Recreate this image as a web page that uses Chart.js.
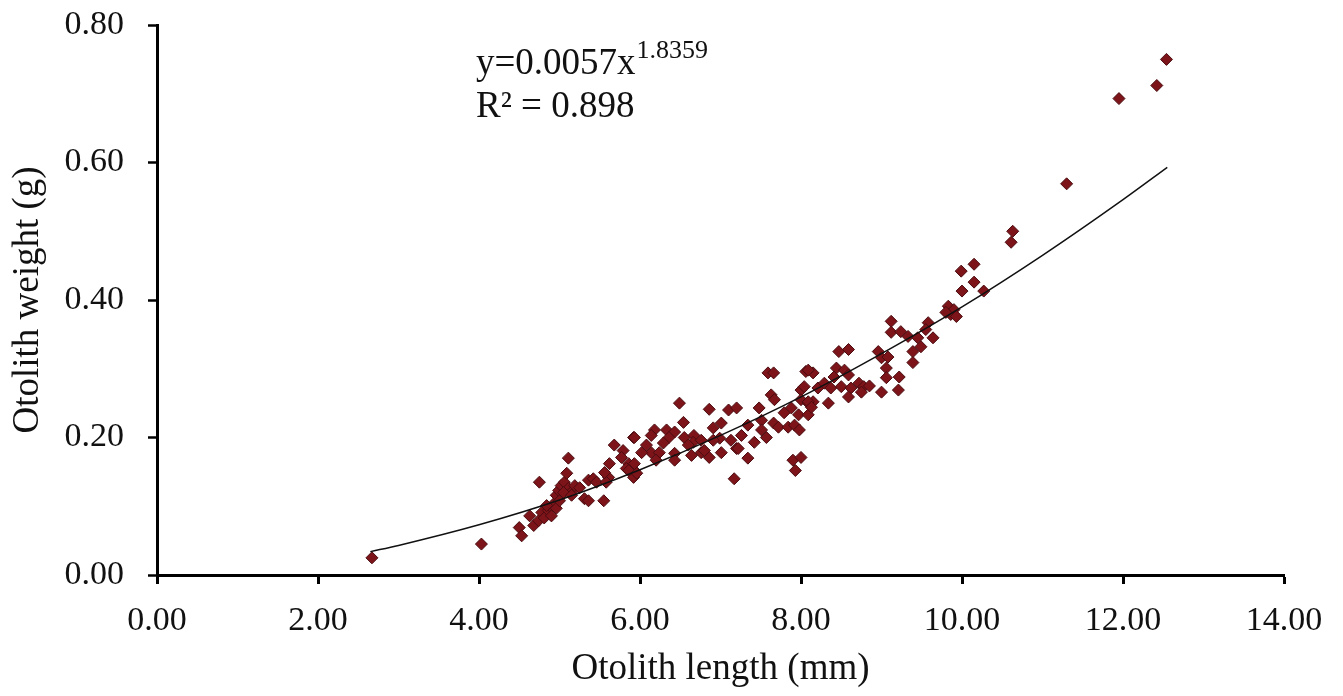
<!DOCTYPE html>
<html>
<head>
<meta charset="utf-8">
<script src="https://cdn.jsdelivr.net/npm/chart.js@4"></script>
<style>
  html, body { margin: 0; padding: 0; background: #fff; }
  #wrap { width: 1343px; height: 696px; }
</style>
</head>
<body>
<div id="wrap"><canvas id="chart" width="1343" height="696"></canvas></div>
<script>
// otolith length (mm) / weight (g)
const lengthMm = [
  2.67, 4.03, 4.50, 4.53, 4.75, 4.68, 4.74, 4.78, 4.81, 4.86, 4.90, 4.94, 4.96, 4.99, 5.02, 5.06,
  5.09, 5.11, 5.11, 5.17, 5.19, 5.31, 5.36, 5.55, 5.36, 5.42, 5.46, 5.61, 5.58, 5.56, 5.62, 5.68,
  5.79, 5.92, 5.77, 5.86, 5.93, 5.92, 5.83, 4.84, 4.90, 4.96, 5.00, 5.05, 5.15, 5.25, 4.63,
  7.59, 7.66, 8.06, 8.15, 8.21, 8.00, 6.49, 6.86, 7.10, 7.20, 7.48, 7.63, 7.67, 7.79, 7.88,
  8.00, 8.09, 8.15, 7.97, 8.09, 6.54, 7.01, 7.34, 7.51, 7.66, 7.72, 7.84, 7.92, 7.98, 7.51,
  7.57, 7.42, 7.26, 7.13, 7.20, 6.18, 5.93, 6.33, 6.43, 6.55, 6.67, 6.66, 6.76, 6.36, 6.99,
  7.01, 6.76, 6.86, 6.80, 7.22, 7.34, 7.90, 8.00, 7.93, 7.17, 6.14, 6.24, 6.43, 6.43, 6.02,
  5.93, 5.86, 5.96, 6.08, 6.20, 6.29, 6.60, 6.64, 6.91, 6.91, 6.14,
  9.99, 10.15, 10.15, 10.00, 10.27, 9.83, 9.86, 9.90, 9.80, 9.93, 9.12, 9.12, 9.24, 9.33,
  9.58, 9.55, 9.45, 9.64, 9.49, 9.39, 9.39, 8.96, 9.00, 9.08, 9.06, 9.06, 9.22, 9.21, 9.00,
  8.47, 8.59, 8.44, 8.54, 8.59, 8.41, 8.29, 8.37, 8.50, 8.62, 8.72, 8.78, 8.85, 8.75, 8.59,
  8.34, 8.09, 8.04, 8.09, 8.13,
  11.30, 11.95, 12.42, 12.54, 10.63, 10.61
];
const weightG = [
  0.025, 0.045, 0.069, 0.057, 0.135, 0.072, 0.079, 0.091, 0.083, 0.094, 0.098, 0.105, 0.116, 0.123, 0.130, 0.135,
  0.148, 0.170, 0.126, 0.123, 0.130, 0.111, 0.108, 0.108, 0.138, 0.140, 0.135, 0.142, 0.135, 0.149, 0.162, 0.189,
  0.181, 0.200, 0.171, 0.162, 0.152, 0.142, 0.155, 0.101, 0.086, 0.097, 0.108, 0.120, 0.116, 0.127, 0.086,
  0.294, 0.294, 0.296, 0.294, 0.272, 0.269, 0.250, 0.241, 0.240, 0.243, 0.243, 0.262, 0.255, 0.236, 0.243,
  0.255, 0.250, 0.252, 0.233, 0.233, 0.222, 0.221, 0.218, 0.225, 0.221, 0.215, 0.215, 0.218, 0.211, 0.211,
  0.200, 0.193, 0.203, 0.196, 0.184, 0.211, 0.200, 0.211, 0.208, 0.200, 0.203, 0.193, 0.196, 0.200, 0.199,
  0.178, 0.178, 0.171, 0.181, 0.184, 0.170, 0.167, 0.171, 0.152, 0.140, 0.178, 0.178, 0.177, 0.167, 0.178,
  0.162, 0.152, 0.148, 0.189, 0.167, 0.192, 0.189, 0.174, 0.214, 0.196, 0.203,
  0.442, 0.452, 0.426, 0.413, 0.413, 0.391, 0.379, 0.386, 0.382, 0.376, 0.369, 0.353, 0.354, 0.347,
  0.367, 0.357, 0.345, 0.345, 0.332, 0.325, 0.309, 0.325, 0.316, 0.317, 0.301, 0.287, 0.288, 0.269, 0.266,
  0.325, 0.328, 0.301, 0.298, 0.291, 0.288, 0.279, 0.272, 0.274, 0.272, 0.279, 0.274, 0.275, 0.266, 0.259,
  0.250, 0.298, 0.274, 0.252, 0.244,
  0.569, 0.693, 0.712, 0.750, 0.500, 0.484
];

// power trend line y=0.0057x^1.8359
const trendX = [2.65, 3, 4, 5, 6, 7, 8, 9, 10, 11, 12, 12.55];
const trendY = [0.034, 0.043, 0.073, 0.109, 0.153, 0.203, 0.259, 0.322, 0.390, 0.465, 0.546, 0.593];

const xTicks = [0, 2, 4, 6, 8, 10, 12, 14];
const yTicks = [0, 0.2, 0.4, 0.6, 0.8];

const serif = "'Liberation Serif', 'Times New Roman', serif";

const points = lengthMm.map((x, i) => ({ x: x, y: weightG[i] }));
const trend = trendX.map((x, i) => ({ x: x, y: trendY[i] }));

// equation text in the plot
const equationText = {
    id: 'equationText',
    afterDraw(chart) {
        const ctx = chart.ctx;
        ctx.save();
        ctx.fillStyle = '#111';
        ctx.textBaseline = 'alphabetic';
        ctx.textAlign = 'left';
        ctx.font = '37px ' + serif;
        const s = 'y=0.0057x';
        ctx.fillText(s, 476, 74);
        const w = ctx.measureText(s).width;
        ctx.font = '26px ' + serif;
        ctx.fillText('1.8359', 476 + w + 1, 58);
        ctx.font = '37px ' + serif;
        ctx.fillText('R² = 0.898', 476, 117);
        ctx.restore();
    }
};

new Chart(document.getElementById('chart'), {
    type: 'scatter',
    data: {
        datasets: [{
            label: 'Otolith',
            data: points,
            pointStyle: 'rectRot',
            pointRadius: 6,
            backgroundColor: '#7d1419',
            borderColor: '#4a0c10',
            borderWidth: 1,
            order: 2
        }, {
            type: 'line',
            label: 'Power trend',
            data: trend,
            borderColor: '#111',
            borderWidth: 1.5,
            pointRadius: 0,
            fill: false,
            cubicInterpolationMode: 'monotone',
            order: 1
        }]
    },
    plugins: [equationText],
    options: {
        responsive: false,
        animation: false,
        layout: { padding: { left: 0, right: 59, top: 25, bottom: 0 } },
        plugins: {
            legend: { display: false },
            tooltip: { enabled: false }
        },
        scales: {
            x: {
                type: 'linear',
                min: 0,
                max: 14,
                afterBuildTicks: (scale) => { scale.ticks = xTicks.map(v => ({ value: v })); },
                afterFit: (scale) => { scale.height = 121; },
                ticks: {
                    color: '#111',
                    font: { family: serif, size: 34 },
                    padding: 17,
                    maxRotation: 0,
                    callback: (v) => v.toFixed(2)
                },
                grid: { drawOnChartArea: false, color: '#000', tickLength: 9, tickWidth: 3 },
                border: { color: '#000', width: 3 },
                title: {
                    display: true,
                    text: 'Otolith length (mm)',
                    color: '#111',
                    font: { family: serif, size: 37 },
                    padding: { top: 4, bottom: 5 }
                }
            },
            y: {
                type: 'linear',
                min: 0,
                max: 0.8,
                afterBuildTicks: (scale) => { scale.ticks = yTicks.map(v => ({ value: v })); },
                afterFit: (scale) => {
                    scale.width = 157;
                    scale.paddingTop = 0;
                    scale.paddingBottom = 0;
                },
                ticks: {
                    color: '#111',
                    font: { family: serif, size: 34 },
                    padding: 24,
                    callback: (v) => v.toFixed(2)
                },
                grid: { drawOnChartArea: false, color: '#000', tickLength: 9, tickWidth: 2.5 },
                border: { color: '#000', width: 3 },
                title: {
                    display: true,
                    text: 'Otolith weight (g)',
                    color: '#111',
                    font: { family: serif, size: 37 },
                    padding: { top: 6, bottom: 0 }
                }
            }
        }
    }
});
</script>
</body>
</html>
